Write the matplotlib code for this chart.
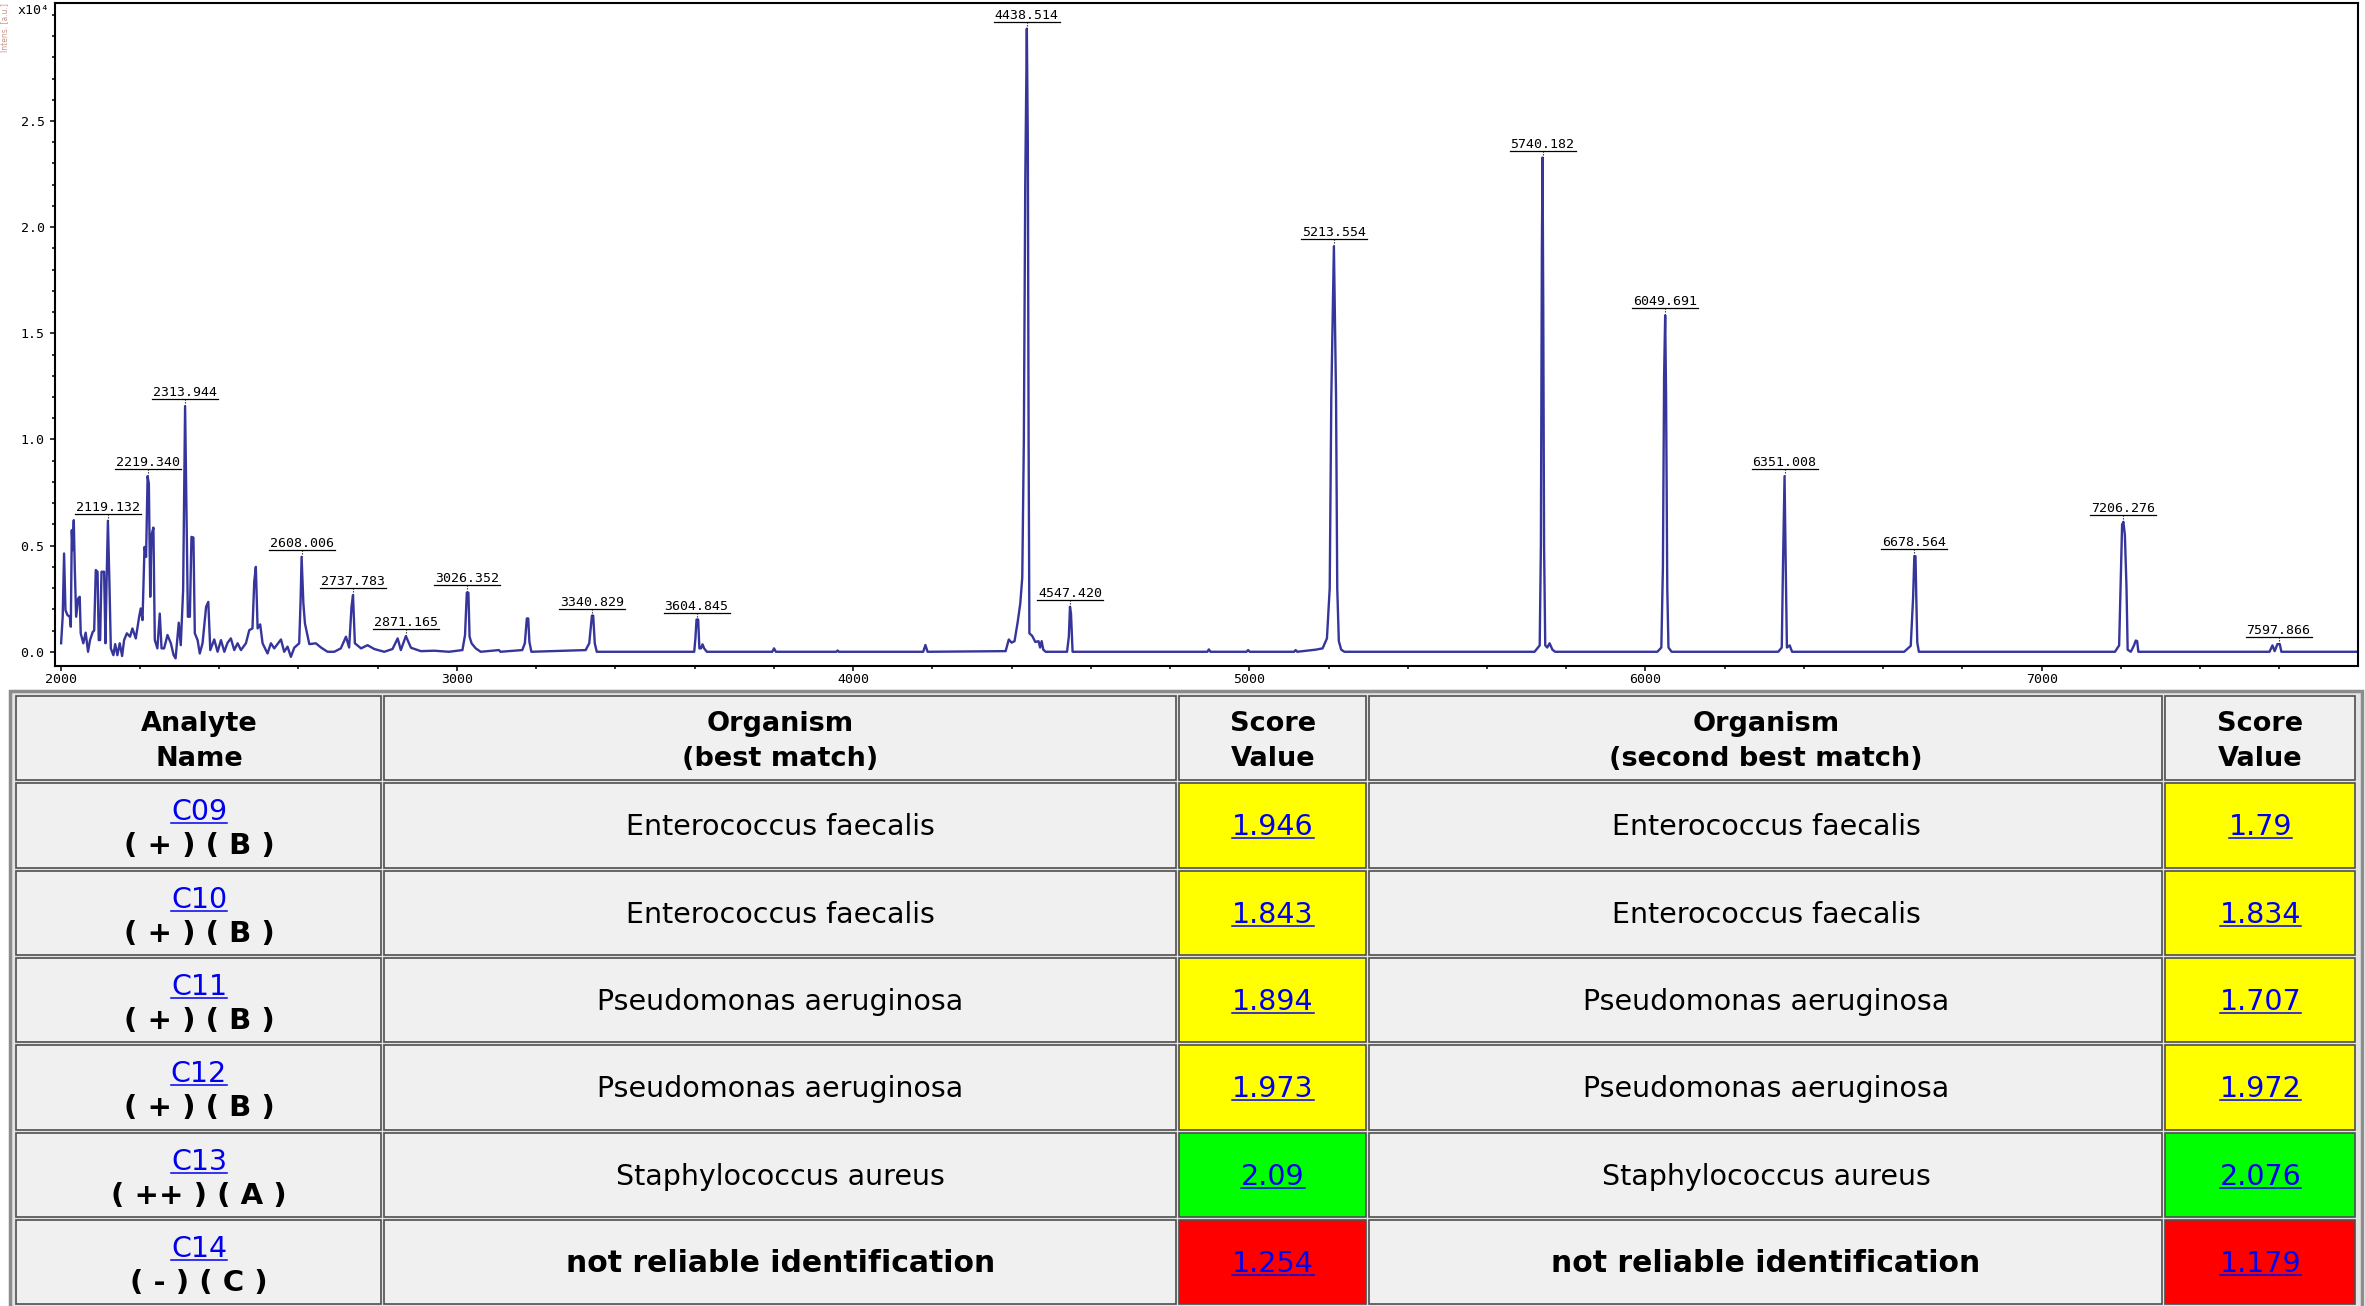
import matplotlib
matplotlib.use("Agg")
import matplotlib.pyplot as plt
from matplotlib.patches import Rectangle
from matplotlib.ticker import MultipleLocator, FixedLocator, FormatStrFormatter

# ---- Spectrum trace (m/z, intensity in 1e4 a.u.) ----
mz_low = [2001, 2005, 2008.5, 2012, 2017, 2023, 2025.5, 2028, 2030, 2033,
          2035.5, 2039, 2044, 2048, 2050.5, 2057, 2063, 2069, 2074, 2081,
          2084.5, 2088.5, 2093, 2096, 2099.5, 2103, 2109.5, 2113, 2115.5, 2119.132,
          2123, 2126.5, 2133, 2137.5, 2143, 2149, 2155, 2160, 2167, 2175,
          2181, 2189.5, 2198, 2202, 2206.5, 2211.5, 2215.5, 2219.34, 2222.5, 2226,
          2229, 2234, 2237.5, 2244, 2250, 2254.5, 2261, 2269.5, 2278, 2285,
          2290, 2298, 2303, 2309, 2313.944, 2317.5, 2321, 2326, 2330, 2335,
          2338.5, 2345.5, 2351, 2358, 2367, 2372.5, 2377.5, 2387.5, 2396, 2404.5,
          2413, 2421, 2429.5, 2438, 2446.5, 2455, 2467.5, 2476, 2484, 2488.5,
          2492.5, 2497, 2503.5, 2509.5, 2522, 2530.5, 2539, 2556, 2564, 2572.5,
          2581, 2589.5, 2602, 2605.5, 2608.006, 2612.5, 2616.5, 2627.5, 2644, 2657,
          2673.5, 2690.5, 2707, 2720, 2728, 2734, 2737.783, 2742.5, 2758, 2774.5,
          2791.5, 2816.5, 2837.5, 2850.5, 2858.5, 2871.165, 2884, 2909, 2943, 2980]
int_low = [0.04, 0.165, 0.463, 0.196, 0.173, 0.165, 0.118, 0.573, 0.479, 0.62,
           0.393, 0.165, 0.251, 0.259, 0.087, 0.04, 0.09, 0.0, 0.055, 0.094,
           0.1, 0.385, 0.377, 0.055, 0.055, 0.377, 0.377, 0.04, 0.306, 0.617,
           0.322, 0.016, -0.016, 0.036, -0.016, 0.04, -0.02, 0.055, 0.087, 0.071,
           0.11, 0.063, 0.165, 0.204, 0.149, 0.494, 0.447, 0.827, 0.792, 0.259,
           0.549, 0.585, 0.055, 0.016, 0.18, 0.016, 0.016, 0.079, 0.04, -0.016,
           -0.031, 0.137, 0.031, 0.29, 1.157, 0.675, 0.165, 0.165, 0.541, 0.538,
           0.087, 0.055, -0.008, 0.04, 0.212, 0.235, 0.008, 0.058, 0.0, 0.055,
           0.0, 0.042, 0.063, 0.008, 0.04, 0.008, 0.04, 0.102, 0.11, 0.33,
           0.4, 0.11, 0.129, 0.04, -0.008, 0.04, 0.016, 0.058, 0.0, 0.024,
           -0.024, 0.019, 0.04, 0.243, 0.447, 0.228, 0.133, 0.036, 0.04, 0.02,
           0.0, 0.0, 0.016, 0.071, 0.02, 0.212, 0.267, 0.04, 0.016, 0.031,
           0.013, 0.0, 0.013, 0.063, 0.008, 0.074, 0.019, 0.003, 0.005, 0.0]

mz_mid = [3014, 3020.5, 3025, 3026.352, 3029, 3032, 3037, 3047.5, 3060, 3106,
          3110, 3165, 3171.5, 3176.5, 3180, 3183, 3188, 3325, 3334, 3340.829,
          3344, 3348, 3353, 3599, 3602, 3604.845, 3609, 3612, 3616, 3620,
          3624, 3631, 3796, 3800.5, 3805, 3958, 3961, 3964, 4177, 4182.5,
          4188, 4385, 4393, 4400, 4407.5, 4415.5, 4422, 4427, 4431, 4434.5,
          4438.514, 4441, 4443, 4445, 4452, 4460, 4468, 4472, 4476, 4480,
          4486, 4540, 4544.5, 4547.42, 4550, 4554]
int_mid = [0.008, 0.079, 0.278, 0.28, 0.278, 0.071, 0.04, 0.016, 0.0, 0.008,
           0.0, 0.008, 0.04, 0.157, 0.157, 0.047, 0.0, 0.008, 0.04, 0.17,
           0.17, 0.04, 0.0, 0.0, 0.063, 0.152, 0.152, 0.016, 0.016, 0.035,
           0.016, 0.0, 0.0, 0.016, 0.0, 0.0, 0.006, 0.0, 0.0, 0.032,
           0.0, 0.003, 0.058, 0.043, 0.05, 0.141, 0.228, 0.35, 1.0, 2.2,
           2.935, 2.4, 1.0, 0.087, 0.075, 0.046, 0.05, 0.02, 0.05, 0.01,
           0.0, 0.0, 0.07, 0.212, 0.18, 0.0]

mz_high = [4894, 4898, 4902, 4993, 4997, 5001, 5113, 5117, 5121, 5168,
           5185, 5196, 5203, 5207, 5213.554, 5219, 5222, 5226, 5232, 5240,
           5720, 5733, 5736, 5738.5, 5740.182, 5742, 5744, 5747, 5752, 5758,
           5765, 5772, 6030, 6040, 6044, 6047, 6049.691, 6052, 6055, 6058,
           6066, 6335, 6344, 6347, 6351.008, 6354, 6357, 6364, 6370, 6653,
           6669.5, 6675.5, 6678.564, 6681.5, 6683.5, 6686, 6690, 7185, 7195.5, 7199.5,
           7203, 7206.276, 7210, 7214, 7217, 7225, 7233, 7237.5, 7241, 7244,
           7575, 7582.5, 7588, 7595, 7597.866, 7601, 7605, 7798]
int_high = [0.0, 0.011, 0.0, 0.0, 0.008, 0.0, 0.0, 0.008, 0.0, 0.01,
            0.016, 0.063, 0.3, 1.2, 1.91, 1.2, 0.3, 0.05, 0.01, 0.0,
            0.0, 0.03, 0.5, 1.9, 2.328, 1.6, 0.5, 0.03, 0.02, 0.04,
            0.01, 0.0, 0.0, 0.02, 0.4, 1.3, 1.585, 1.2, 0.3, 0.02,
            0.0, 0.0, 0.02, 0.4, 0.827, 0.4, 0.02, 0.03, 0.0, 0.0,
            0.028, 0.257, 0.45, 0.45, 0.257, 0.044, 0.0, 0.0, 0.03, 0.33,
            0.6, 0.612, 0.55, 0.31, 0.01, 0.0, 0.03, 0.053, 0.05, 0.0,
            0.0, 0.03, 0.003, 0.036, 0.036, 0.036, 0.0, 0.0]

peak_labels = ["2119.132", "2219.340", "2313.944", "2608.006", "2737.783", "2871.165",
               "3026.352", "3340.829", "3604.845", "4438.514", "4547.420", "5213.554",
               "5740.182", "6049.691", "6351.008", "6678.564", "7206.276", "7597.866"]

# ---- Identification table ----
analyte_names = ["C09", "C10", "C11", "C12", "C13", "C14"]
analyte_grades = ["( + ) ( B )", "( + ) ( B )", "( + ) ( B )", "( + ) ( B )",
                  "( ++ ) ( A )", "( - ) ( C )"]
best_match = ["Enterococcus faecalis", "Enterococcus faecalis", "Pseudomonas aeruginosa",
              "Pseudomonas aeruginosa", "Staphylococcus aureus", "not reliable identification"]
best_score = [1.946, 1.843, 1.894, 1.973, 2.09, 1.254]
second_match = ["Enterococcus faecalis", "Enterococcus faecalis", "Pseudomonas aeruginosa",
                "Pseudomonas aeruginosa", "Staphylococcus aureus", "not reliable identification"]
second_score = [1.79, 1.834, 1.707, 1.972, 2.076, 1.179]
headers = [("Analyte", "Name"), ("Organism", "(best match)"), ("Score", "Value"),
           ("Organism", "(second best match)"), ("Score", "Value")]

W, H = 2365, 1306
plt.rcParams["font.family"] = ["DejaVu Sans Mono", "DejaVu Sans"]
fig = plt.figure(figsize=(W / 100, H / 100), dpi=100)

# ---- Spectrum ----
ax = fig.add_axes([55 / W, 1 - 666 / H, (2358 - 55) / W, (666 - 3) / H])
mz = mz_low + mz_mid + mz_high
inten = int_low + int_mid + int_high
ax.plot(mz, inten, color="#35359c", lw=1.7)
ax.set_xlim(1985.6, 7798.4)
ax.set_ylim(-0.067, 3.056)
ax.xaxis.set_major_locator(MultipleLocator(1000))
ax.xaxis.set_minor_locator(MultipleLocator(200))
ax.yaxis.set_major_locator(FixedLocator([0, 0.5, 1.0, 1.5, 2.0, 2.5]))
ax.yaxis.set_minor_locator(MultipleLocator(0.1))
ax.yaxis.set_major_formatter(FormatStrFormatter("%.1f"))
for s in ax.spines.values():
    s.set_linewidth(1.5)
ax.tick_params(which="both", direction="out", width=1.1, length=2.5, labelsize=9.5, pad=1.5)
ax.tick_params(which="major", length=3.5)
ax.tick_params(axis="y", pad=4)

fig.text(50 / W, 1 - 10 / H, "x10⁴", ha="right", va="center", fontsize=9.5)
fig.text(5 / W, 1 - 3 / H, "Intens. [a.u.]", rotation=90, ha="center", va="top",
         fontsize=5.5, color="#c89484", family="DejaVu Sans")

# overlay in pixel coordinates (y downwards)
ov = fig.add_axes([0, 0, 1, 1], zorder=5)
ov.set_xlim(0, W)
ov.set_ylim(H, 0)
ov.axis("off")
renderer = fig.canvas.get_renderer()

for lab in peak_labels:
    m = float(lab)
    h = max(v for x, v in zip(mz, inten) if abs(x - m) < 5)
    xd, yd = ax.transData.transform((m, h))
    x, y = xd, H - yd
    t = ov.text(x, y - 10, lab, ha="center", va="baseline", fontsize=9.5, color="black")
    bb = t.get_window_extent(renderer)
    ov.plot([bb.x0 - 1, bb.x1 + 1], [y - 7, y - 7], color="black", lw=0.9)
    ov.plot([x, x], [y - 7, y - 1], color="black", lw=0.8, ls=(0, (1, 1.5)))

# ---- Table ----
col_x = [15, 383, 1178, 1368, 2164, 2357]
row_y = [694, 781, 869, 956, 1043, 1131, 1218, 1305]
ov.add_patch(Rectangle((10, 691), 2352, 620, facecolor="#e4e4e4",
                       edgecolor="#8c8c8c", lw=2.5))


def score_colour(v):
    if v >= 2.0:
        return "#00ff00"
    if v >= 1.7:
        return "#ffff00"
    return "#ff0000"


def cell(c, r, fill="#f0f0f0"):
    x0, x1 = col_x[c], col_x[c + 1]
    y0, y1 = row_y[r], row_y[r + 1]
    ov.add_patch(Rectangle((x0 + 1.5, y0 + 1.5), x1 - x0 - 3, y1 - y0 - 3,
                           facecolor=fill, edgecolor="#4e4e4e", lw=1.2))
    return (x0 + x1) / 2, y0


def put(x, y, s, color="black", weight="normal", underline=False, size=20.5):
    t = ov.text(x, y, s, ha="center", va="baseline", fontsize=size,
                family="DejaVu Sans", fontweight=weight, color=color)
    if underline:
        bb = t.get_window_extent(renderer)
        ov.plot([bb.x0, bb.x1], [y + 3, y + 3], color=color, lw=1.1)


for c, (l1, l2) in enumerate(headers):
    cx, top = cell(c, 0)
    put(cx, top + 37, l1, weight="bold", size=19.5)
    put(cx, top + 72, l2, weight="bold", size=19.5)

link = "#0000ee"
for i in range(len(analyte_names)):
    r = i + 1
    cx, top = cell(0, r)
    put(cx, top + 39, analyte_names[i], color=link, underline=True)
    put(cx, top + 73, analyte_grades[i], weight="bold", size=21)

    cx, top = cell(1, r)
    if best_match[i].startswith("not"):
        put(cx, top + 54, best_match[i], weight="bold", size=21.5)
    else:
        put(cx, top + 54, best_match[i])
    cx, top = cell(2, r, score_colour(best_score[i]))
    put(cx, top + 54, f"{best_score[i]:g}", color=link, underline=True)

    cx, top = cell(3, r)
    if second_match[i].startswith("not"):
        put(cx, top + 54, second_match[i], weight="bold", size=21.5)
    else:
        put(cx, top + 54, second_match[i])
    cx, top = cell(4, r, score_colour(second_score[i]))
    put(cx, top + 54, f"{second_score[i]:g}", color=link, underline=True)

fig.savefig("out.png", dpi=100)
